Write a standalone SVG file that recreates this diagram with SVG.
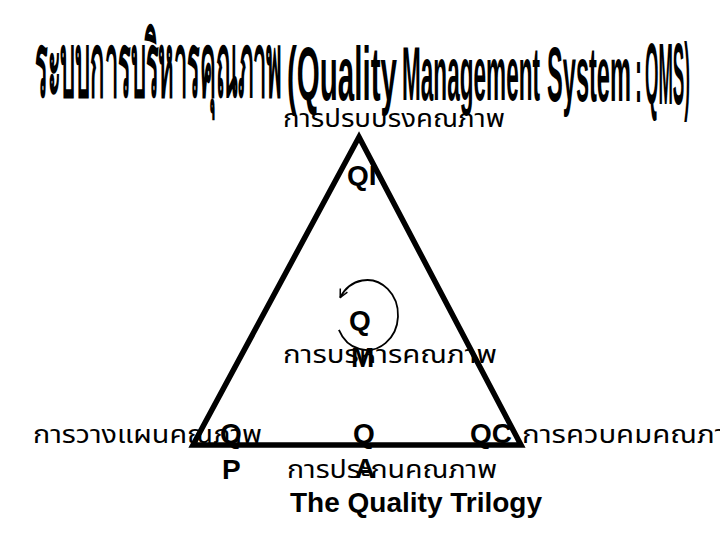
<svg xmlns="http://www.w3.org/2000/svg" width="720" height="540" viewBox="0 0 720 540">
  <style>
    .title { font-family: "Liberation Sans Narrow", "Liberation Sans", "Noto Sans", sans-serif; font-weight: bold; fill: #000; }
    .thai { font-family: "Noto Sans Thai", "Noto Sans", "DejaVu Sans", sans-serif; font-size: 24px; fill: #000; }
    .q { font-family: "Liberation Sans", Arial, sans-serif; font-weight: bold; font-size: 28px; fill: #000; }
  </style>
  <defs>
    <marker id="open" viewBox="0 0 10 10" refX="9" refY="5" markerWidth="10" markerHeight="10" markerUnits="userSpaceOnUse" orient="auto">
      <path d="M1 1 L9 5 L1 9" fill="none" stroke="#000" stroke-width="1.5"/>
    </marker>
  </defs>
  <rect width="720" height="540" fill="#fff"/>

  <g id="title">
    <text class="title" x="35" y="96" font-size="88" textLength="247" lengthAdjust="spacingAndGlyphs">ระบบการบริหารคุณภาพ</text>
    <text class="title" x="287" y="100" font-size="76" textLength="110" lengthAdjust="spacingAndGlyphs">(Quality</text>
    <text class="title" x="402" y="100" font-size="76" textLength="138" lengthAdjust="spacingAndGlyphs">Management</text>
    <text class="title" x="547" y="101" font-size="78" textLength="84" lengthAdjust="spacingAndGlyphs">System</text>
    <text class="title" x="635" y="102" font-size="80" textLength="7" lengthAdjust="spacingAndGlyphs">:</text>
    <text class="title" x="645" y="104" font-size="88" textLength="45" lengthAdjust="spacingAndGlyphs">QMS)</text>
  </g>

  <g id="labels-thai">
    <text class="thai" x="283" y="127" textLength="222" lengthAdjust="spacingAndGlyphs">การปรบปรงคณภาพ</text>
    <text class="thai" x="283" y="363" textLength="214" lengthAdjust="spacingAndGlyphs">การบรหารคณภาพ</text>
    <text class="thai" x="33" y="443" textLength="229" lengthAdjust="spacingAndGlyphs">การวางแผนคณภาพ</text>
    <text class="thai" x="287" y="478" textLength="210" lengthAdjust="spacingAndGlyphs">การประกนคณภาพ</text>
    <text class="thai" x="522" y="443" textLength="225" lengthAdjust="spacingAndGlyphs">การควบคมคณภาพ</text>
  </g>

  <g id="node-QI"><text class="q" x="347" y="185">QI</text></g>
  <g id="node-QM">
    <text class="q" x="349" y="330">Q</text>
    <text class="q" x="351" y="367">M</text>
  </g>
  <g id="node-QP">
    <text class="q" x="220" y="443">Q</text>
    <text class="q" x="222" y="479">P</text>
  </g>
  <g id="node-QA">
    <text class="q" x="353" y="443">Q</text>
    <text class="q" x="355" y="478">A</text>
  </g>
  <g id="node-QC"><text class="q" x="470" y="443">QC</text></g>

  <g id="connectors">
    <path d="M 338.9 329.8 A 31 35 0 1 0 340.2 297.5" fill="none" stroke="#000" stroke-width="1.8" marker-end="url(#open)"/>
    <polygon points="359,137 521,445 193,445" fill="none" stroke="#000" stroke-width="5.5" stroke-linejoin="miter" stroke-miterlimit="10"/>
  </g>

  <g id="caption">
    <text class="q" x="290" y="512">The Quality Trilogy</text>
  </g>
</svg>
